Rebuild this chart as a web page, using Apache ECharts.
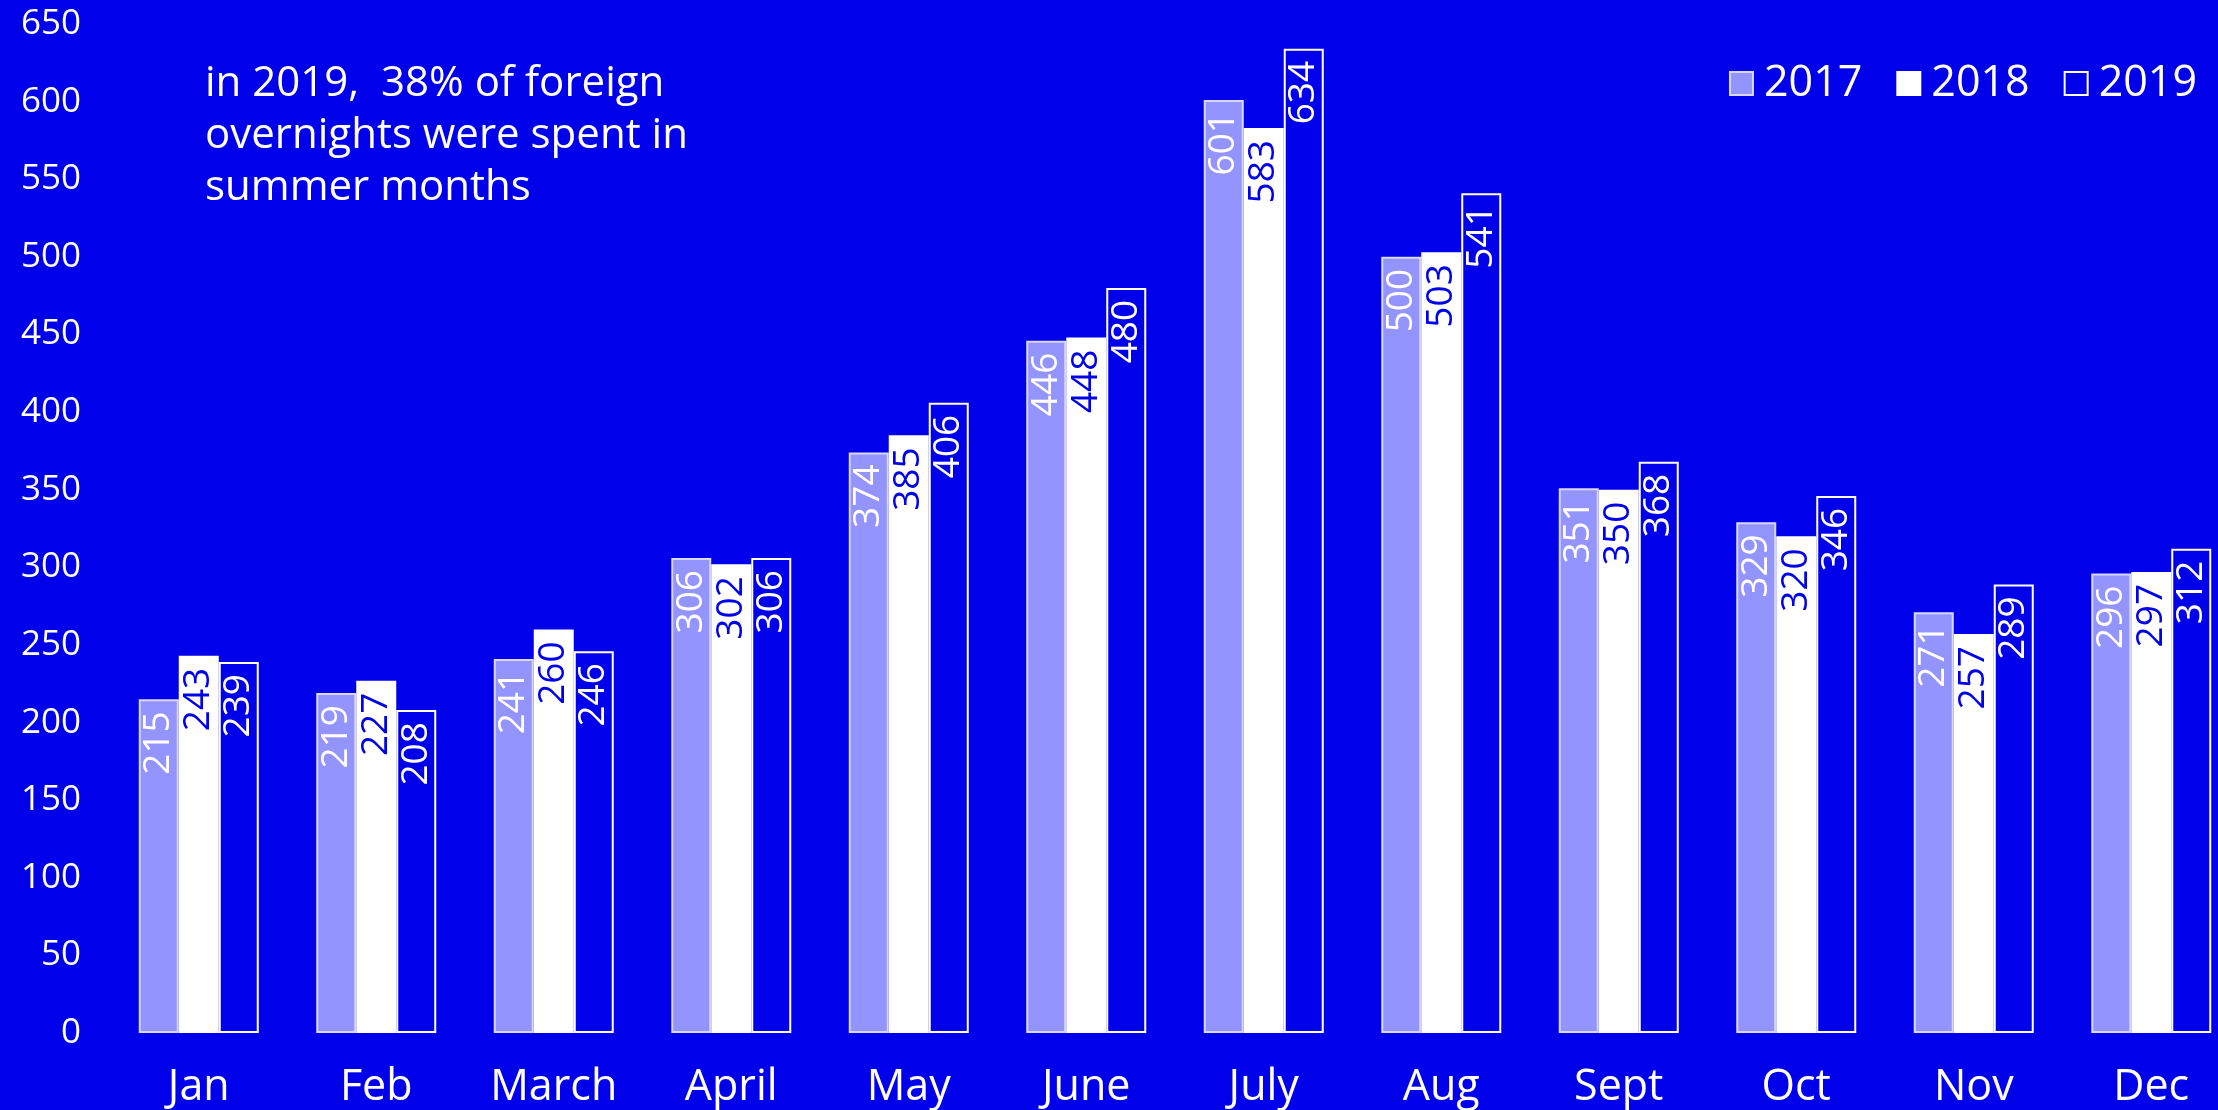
<!DOCTYPE html>
<html>
<head>
<meta charset="utf-8">
<script src="https://cdn.jsdelivr.net/npm/echarts@6/dist/echarts.min.js"></script>
<style>
  html, body { margin: 0; padding: 0; background: #0000EB; }
  #chart { width: 2218px; height: 1110px; }
</style>
</head>
<body>
<div id="chart"></div>
<script>
const categories = ['Jan', 'Feb', 'March', 'April', 'May', 'June', 'July', 'Aug', 'Sept', 'Oct', 'Nov', 'Dec'];
const values2017 = [215, 219, 241, 306, 374, 446, 601, 500, 351, 329, 271, 296];
const values2018 = [243, 227, 260, 302, 385, 448, 583, 503, 350, 320, 257, 297];
const values2019 = [239, 208, 246, 306, 406, 480, 634, 541, 368, 346, 289, 312];
const seriesNames = ['2017', '2018', '2019'];
const yTicks = { min: 0, max: 650, interval: 50 };
const noteText = 'in 2019,  38% of foreign\novernights were spent in\nsummer months';

const BG = '#0000EB';
const FONT = '"Open Sans"';

function barLabel(color) {
  return {
    show: true,
    position: 'insideTop',
    rotate: 90,
    align: 'right',
    verticalAlign: 'middle',
    distance: 12,
    color: color,
    fontFamily: FONT,
    fontSize: 37
  };
}

const chart = echarts.init(document.getElementById('chart'));
chart.setOption({
  backgroundColor: BG,
  animation: false,
  textStyle: { fontFamily: FONT },
  grid: { left: 110, width: 2130, top: 24, bottom: 77, containLabel: false, outerBoundsMode: 'none' },
  legend: {
    right: 16,
    top: 57,
    itemWidth: 23,
    itemHeight: 23,
    itemGap: 34,
    icon: 'rect',
    textStyle: { color: '#FFFFFF', fontSize: 43, fontFamily: FONT, padding: [0, 0, 0, 6] },
    data: seriesNames
  },
  xAxis: {
    type: 'category',
    data: categories,
    axisLine: { show: false },
    axisTick: { show: false },
    axisLabel: { color: '#FFFFFF', fontSize: 43, fontFamily: FONT, margin: 33 }
  },
  yAxis: {
    type: 'value',
    min: yTicks.min,
    max: yTicks.max,
    interval: yTicks.interval,
    axisLine: { show: false },
    axisTick: { show: false },
    splitLine: { show: false },
    axisLabel: { color: '#FFFFFF', fontSize: 35, fontFamily: FONT, margin: 29 }
  },
  series: [
    {
      name: seriesNames[0],
      type: 'bar',
      data: values2017,
      barWidth: 40,
      barGap: '0%',
      itemStyle: { color: '#9494FF', borderColor: '#D8D8FF', borderWidth: 2 },
      label: barLabel('#FFFFFF')
    },
    {
      name: seriesNames[1],
      type: 'bar',
      data: values2018,
      barWidth: 40,
      barGap: '0%',
      itemStyle: { color: '#FFFFFF', borderColor: '#FFFFFF', borderWidth: 2 },
      label: barLabel(BG)
    },
    {
      name: seriesNames[2],
      type: 'bar',
      data: values2019,
      barWidth: 40,
      barGap: '0%',
      itemStyle: { color: BG, borderColor: '#FFFFFF', borderWidth: 2 },
      label: barLabel('#FFFFFF')
    }
  ],
  graphic: [
    {
      type: 'text',
      left: 205,
      top: 58,
      style: {
        text: noteText,
        fill: '#FFFFFF',
        font: '42px ' + FONT,
        lineHeight: 52
      }
    }
  ]
});
</script>
</body>
</html>
